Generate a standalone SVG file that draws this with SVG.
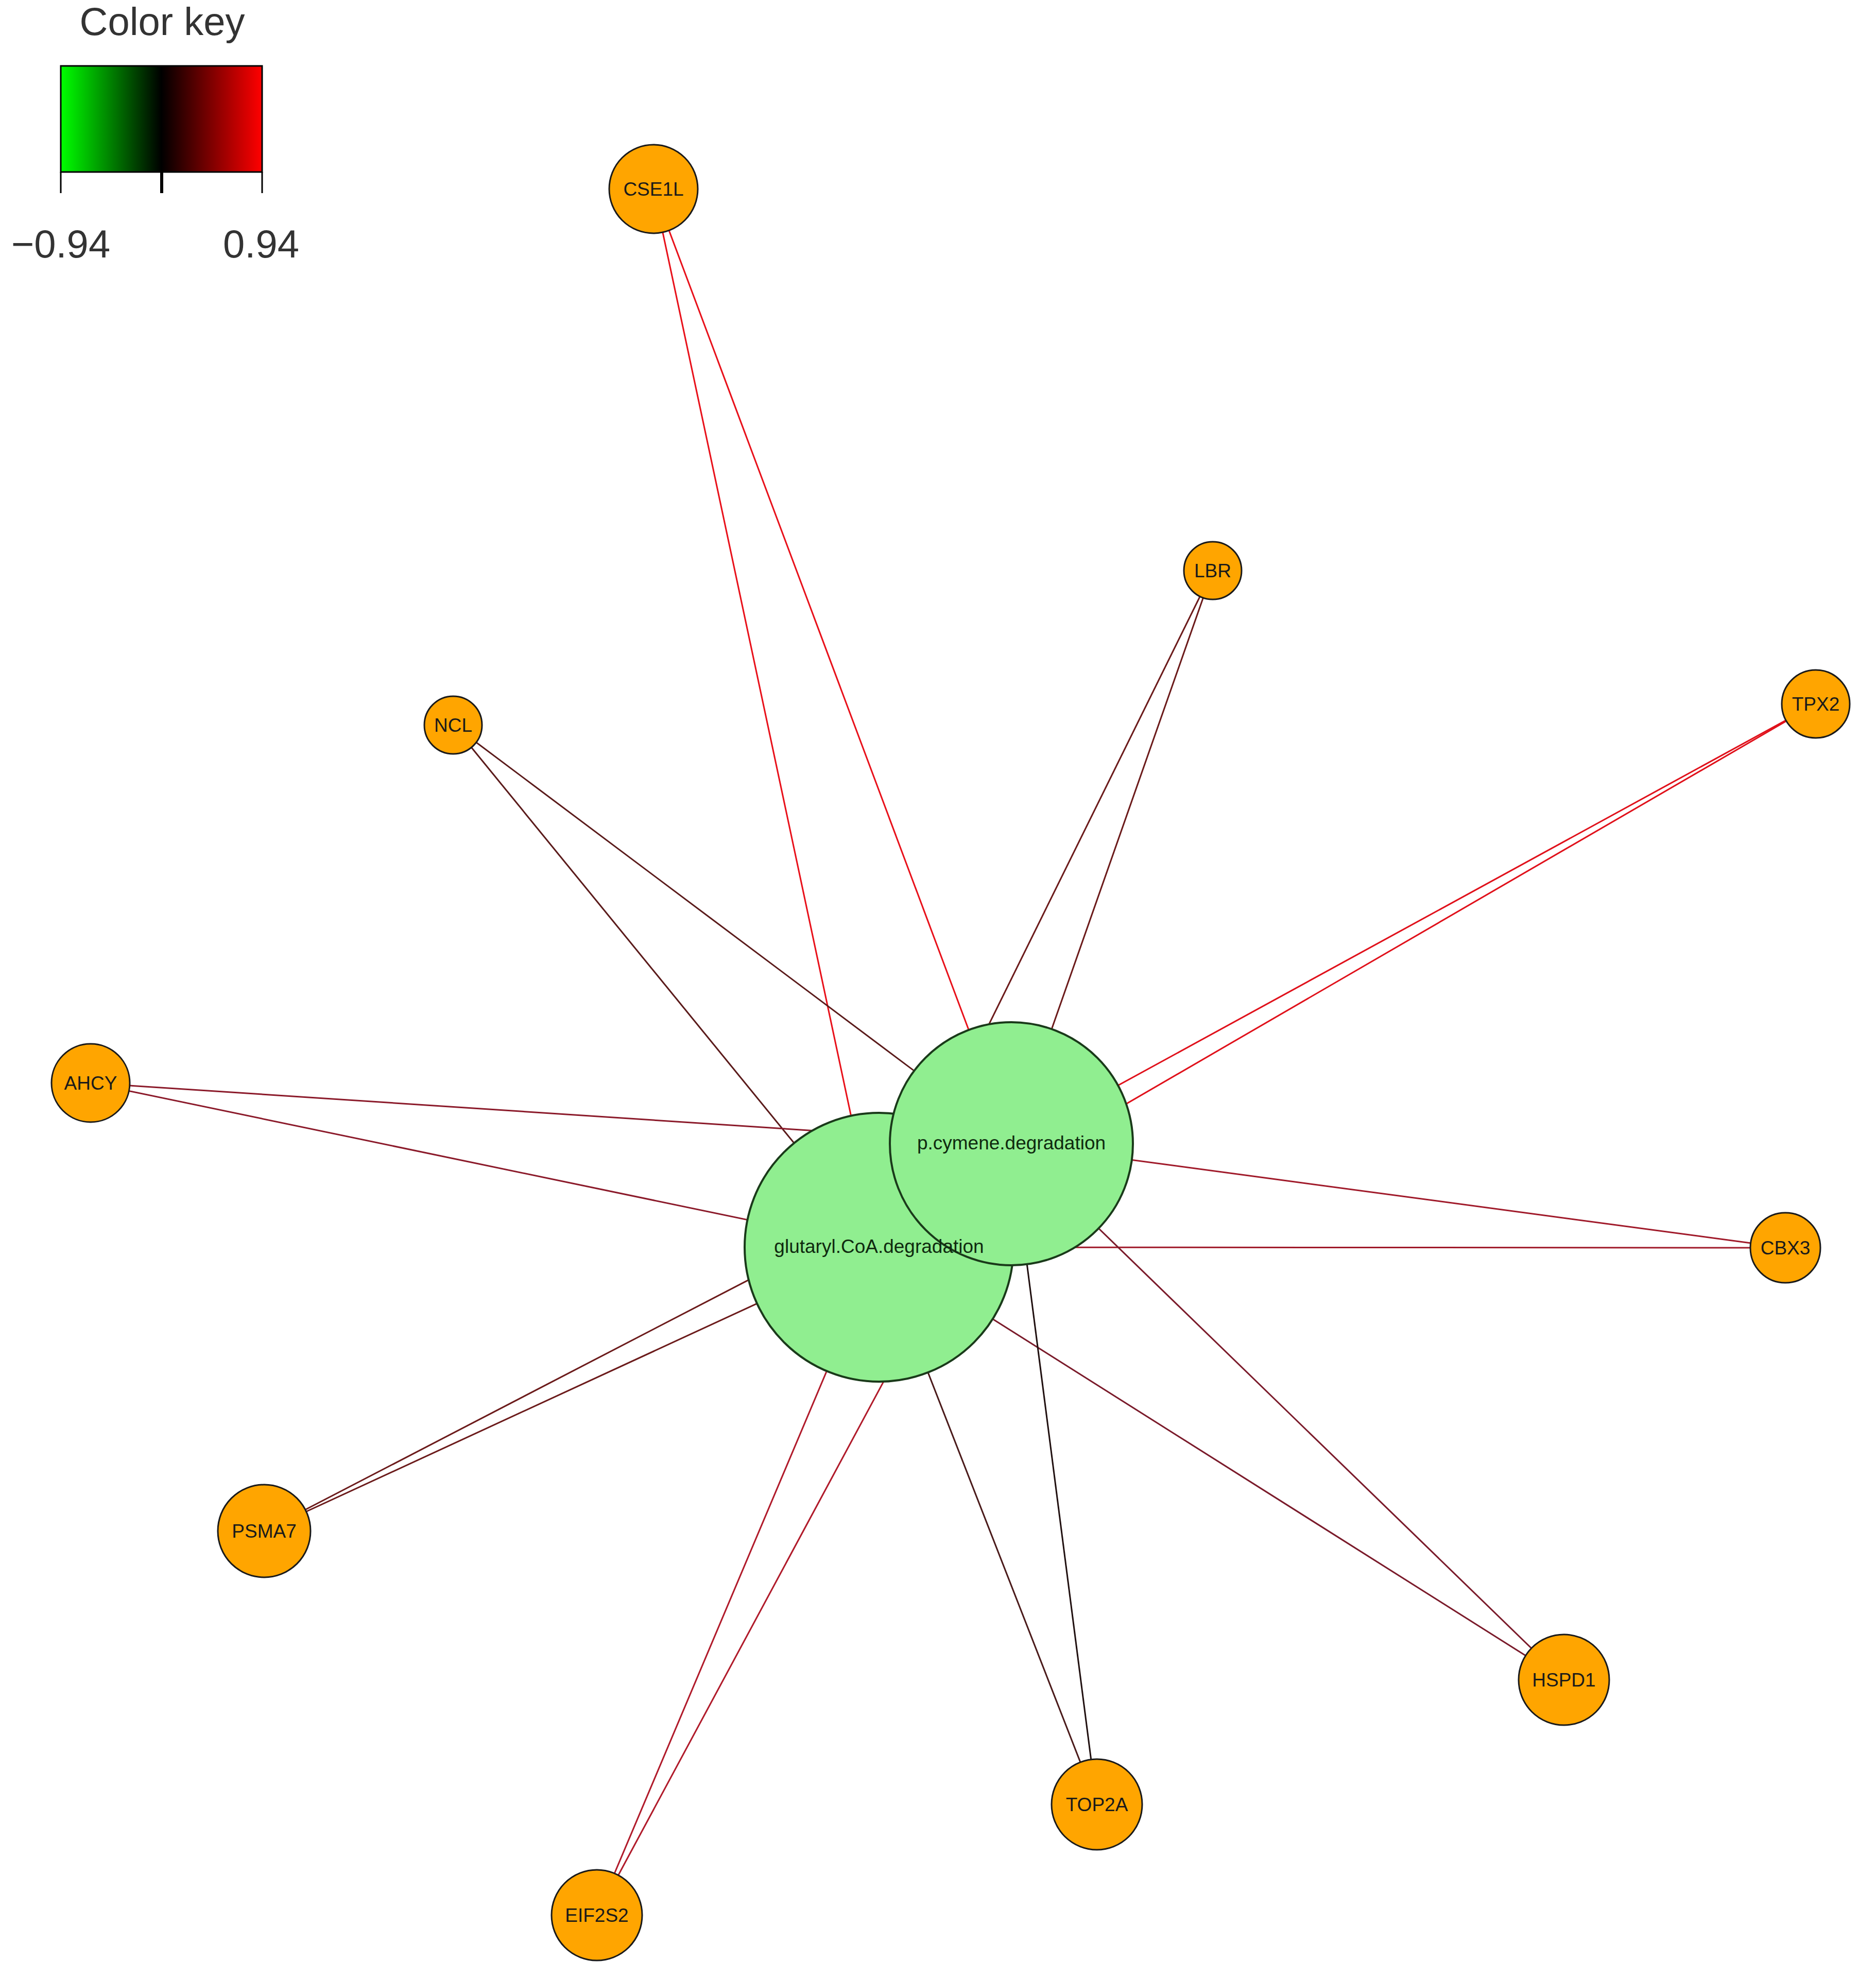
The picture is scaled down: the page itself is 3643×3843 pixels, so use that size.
<svg xmlns="http://www.w3.org/2000/svg" width="3643" height="3843" viewBox="0 0 3643 3843">
<style>
.g{fill:#ffa500;stroke:#1a1a1a;stroke-width:3}
.p{fill:#90ee90;stroke:#1a3a1a;stroke-width:4}
.t{font-family:"Liberation Sans",Arial,sans-serif;font-size:37px;text-anchor:middle;dominant-baseline:central;fill:#1a1a1a}
.pt{font-family:"Liberation Sans",Arial,sans-serif;font-size:37px;text-anchor:middle;dominant-baseline:central;fill:#0f2a0f}
.k{font-family:"Liberation Sans",Arial,sans-serif;font-size:76px;text-anchor:middle;fill:#333}
#edges line{stroke-width:3}
</style>
<defs>
<linearGradient id="ck" x1="0" x2="1" y1="0" y2="0">
<stop offset="0" stop-color="#00ff00"/><stop offset="0.5" stop-color="#000"/><stop offset="1" stop-color="#ff0000"/>
</linearGradient>
</defs>
<rect width="3643" height="3843" fill="#fff"/>
<g id="legend">
<text class="k" x="315" y="68">Color key</text>
<rect x="118" y="128" width="391" height="206" fill="url(#ck)" stroke="#000" stroke-width="3"/>
<path d="M118 334V375M509 334V375" stroke="#000" stroke-width="3"/>
<path d="M314 334V375" stroke="#000" stroke-width="6"/>
<text class="k" x="118" y="500">−0.94</text>
<text class="k" x="507" y="500">0.94</text>
</g>
<g id="edges">
<line x1="1269" y1="367" x2="1707" y2="2422" stroke="#e8101a"/>
<line x1="1269" y1="367" x2="1964" y2="2221" stroke="#e8101a"/>
<line x1="2355" y1="1108" x2="1707" y2="2422" stroke="#6b1a1a"/>
<line x1="2355" y1="1108" x2="1964" y2="2221" stroke="#6b1a1a"/>
<line x1="3526" y1="1367" x2="1707" y2="2422" stroke="#e0101a"/>
<line x1="3526" y1="1367" x2="1964" y2="2221" stroke="#e0101a"/>
<line x1="880" y1="1408" x2="1707" y2="2422" stroke="#5a1a1a"/>
<line x1="880" y1="1408" x2="1964" y2="2221" stroke="#5a1a1a"/>
<line x1="176" y1="2103" x2="1707" y2="2422" stroke="#8b1a2a"/>
<line x1="176" y1="2103" x2="1964" y2="2221" stroke="#8b1a2a"/>
<line x1="3467" y1="2423" x2="1707" y2="2422" stroke="#a01a2a"/>
<line x1="3467" y1="2423" x2="1964" y2="2221" stroke="#a01a2a"/>
<line x1="513" y1="2973" x2="1707" y2="2422" stroke="#6b1a1a"/>
<line x1="513" y1="2973" x2="1964" y2="2221" stroke="#6b1a1a"/>
<line x1="3037" y1="3262" x2="1707" y2="2422" stroke="#7a1a2a"/>
<line x1="3037" y1="3262" x2="1964" y2="2221" stroke="#7a1a2a"/>
<line x1="2130" y1="3504" x2="1707" y2="2422" stroke="#4a1a1a"/>
<line x1="2130" y1="3504" x2="1964" y2="2221" stroke="#201010"/>
<line x1="1159" y1="3719" x2="1707" y2="2422" stroke="#b01a2a"/>
<line x1="1159" y1="3719" x2="1964" y2="2221" stroke="#b01a2a"/>
</g>
<g id="glutaryl"><circle class="p" cx="1707" cy="2422" r="261"/></g>
<g id="pcymene"><circle class="p" cx="1964" cy="2221" r="236"/><text class="pt" x="1964" y="2219">p.cymene.degradation</text></g>
<g id="glutaryl-label"><text class="pt" x="1707" y="2420">glutaryl.CoA.degradation</text></g>
<g id="CSE1L"><circle class="g" cx="1269" cy="367" r="86"/><text class="t" x="1269" y="367">CSE1L</text></g>
<g id="LBR"><circle class="g" cx="2355" cy="1108" r="56"/><text class="t" x="2355" y="1108">LBR</text></g>
<g id="TPX2"><circle class="g" cx="3526" cy="1367" r="66"/><text class="t" x="3526" y="1367">TPX2</text></g>
<g id="NCL"><circle class="g" cx="880" cy="1408" r="56"/><text class="t" x="880" y="1408">NCL</text></g>
<g id="AHCY"><circle class="g" cx="176" cy="2103" r="76"/><text class="t" x="176" y="2103">AHCY</text></g>
<g id="CBX3"><circle class="g" cx="3467" cy="2423" r="68"/><text class="t" x="3467" y="2423">CBX3</text></g>
<g id="PSMA7"><circle class="g" cx="513" cy="2973" r="90"/><text class="t" x="513" y="2973">PSMA7</text></g>
<g id="HSPD1"><circle class="g" cx="3037" cy="3262" r="88"/><text class="t" x="3037" y="3262">HSPD1</text></g>
<g id="TOP2A"><circle class="g" cx="2130" cy="3504" r="88"/><text class="t" x="2130" y="3504">TOP2A</text></g>
<g id="EIF2S2"><circle class="g" cx="1159" cy="3719" r="88"/><text class="t" x="1159" y="3719">EIF2S2</text></g>
</svg>
